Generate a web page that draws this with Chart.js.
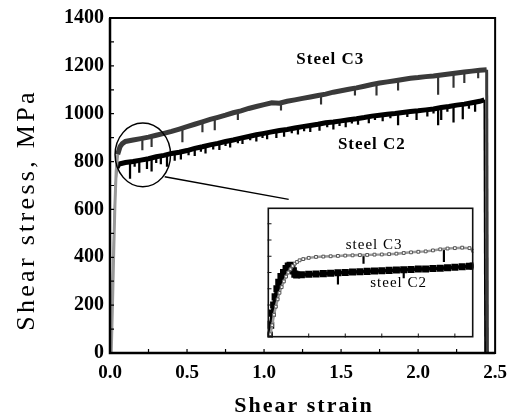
<!DOCTYPE html>
<html>
<head>
<meta charset="utf-8">
<script src="https://cdn.jsdelivr.net/npm/chart.js@4.4.1/dist/chart.umd.min.js"></script>
<style>
  html, body { margin: 0; padding: 0; background: #fff; }
  #wrap { position: relative; width: 516px; height: 416px; }
  #main { position: absolute; left: 0; top: 0; }
  #inset { position: absolute; left: 260px; top: 200px; }
</style>
</head>
<body>
<div id="wrap">
  <canvas id="main" width="516" height="416"></canvas>
  <canvas id="inset" width="221" height="145"></canvas>
</div>
<script>
// ── Main curves (shear strain vs shear stress, MPa)
const c2Strain = [0.004, 0.012, 0.02, 0.028, 0.036, 0.045, 0.06, 0.1, 0.15, 0.2, 0.25, 0.3, 0.35, 0.4, 0.45, 0.5,
  0.55, 0.6, 0.65, 0.7, 0.75, 0.8, 0.85, 0.9, 0.95, 1.0, 1.05, 1.1, 1.15, 1.2, 1.25, 1.3, 1.35, 1.4, 1.45, 1.5,
  1.55, 1.6, 1.65, 1.7, 1.75, 1.8, 1.85, 1.9, 1.95, 2.0, 2.05, 2.1, 2.15, 2.2, 2.25, 2.3, 2.35, 2.4, 2.43, 2.435];
const c2Stress = [0, 180, 380, 560, 700, 775, 790, 796, 800, 806, 812, 820, 826, 834, 839, 846,
  855, 862, 870, 876, 884, 890, 898, 905, 912, 918, 924, 930, 934, 940, 946, 951, 956, 962, 965, 970,
  975, 979, 984, 990, 994, 998, 1001, 1005, 1009, 1012, 1016, 1020, 1026, 1030, 1036, 1040, 1046, 1052, 1058, 0];

const c3Strain = [0.008, 0.016, 0.024, 0.032, 0.04, 0.05, 0.065, 0.08,
  0.1, 0.15, 0.2, 0.25, 0.3, 0.35, 0.4, 0.45, 0.5, 0.55, 0.6, 0.65, 0.7, 0.75, 0.8, 0.85, 0.9, 0.95, 1.0,
  1.05, 1.1, 1.15, 1.2, 1.25, 1.3, 1.35, 1.4, 1.45, 1.5, 1.55, 1.6, 1.65, 1.7, 1.75, 1.8, 1.85, 1.9, 1.95, 2.0,
  2.05, 2.1, 2.15, 2.2, 2.25, 2.3, 2.35, 2.4, 2.445, 2.45];
const c3Stress = [0, 200, 420, 620, 760, 830, 862, 875,
  884, 890, 896, 902, 910, 918, 926, 936, 946, 956, 966, 976, 985, 994, 1004, 1012, 1022, 1030, 1038,
  1046, 1044, 1052, 1058, 1064, 1070, 1076, 1082, 1090, 1096, 1102, 1108, 1115, 1122, 1128, 1133, 1138, 1143, 1148, 1151,
  1155, 1158, 1162, 1166, 1170, 1174, 1178, 1182, 1184, 0];

// downward serrations
const c2SpikeStrain = [0.13, 0.16, 0.19, 0.24, 0.27, 0.3, 0.33, 0.37, 0.42, 0.46, 0.51, 0.55, 0.59, 0.62, 0.67,
  0.71, 0.75, 0.78, 0.83, 0.86, 0.91, 0.95, 0.99, 1.02, 1.08, 1.13, 1.18, 1.22, 1.26, 1.3, 1.36, 1.41, 1.45,
  1.49, 1.53, 1.57, 1.61, 1.68, 1.72, 1.77, 1.82, 1.87, 1.93, 1.99, 2.06, 2.1, 2.13, 2.15, 2.19, 2.23, 2.29,
  2.33, 2.37];
const c2SpikeTop = [798, 802, 805, 810, 815, 818, 824, 830, 836, 840, 848, 855, 860, 865, 872,
  878, 882, 888, 896, 900, 908, 912, 916, 920, 928, 932, 938, 942, 946, 951, 957, 963, 965,
  968, 973, 977, 980, 988, 992, 996, 998, 1003, 1007, 1012, 1017, 1020, 1023, 1026, 1029, 1032, 1039,
  1042, 1048];
const c2SpikeLow = [730, 780, 755, 770, 760, 795, 790, 780, 805, 810, 828, 825, 842, 835, 852,
  850, 866, 860, 878, 875, 890, 885, 900, 895, 900, 905, 920, 915, 928, 925, 930, 945, 935,
  950, 945, 960, 955, 962, 975, 970, 982, 953, 988, 975, 990, 1002, 953, 975, 1010, 965, 978,
  1022, 1010];

const c3SpikeStrain = [0.21, 0.27, 0.47, 0.6, 0.68, 0.83, 1.11, 1.37, 1.59, 1.73, 1.87, 2.13, 2.23, 2.3, 2.39];
const c3SpikeTop = [898, 905, 940, 966, 980, 1008, 1047, 1078, 1106, 1126, 1140, 1160, 1168, 1174, 1180];
const c3SpikeLow = [849, 862, 882, 924, 932, 975, 1015, 1040, 1077, 1077, 1098, 1081, 1110, 1130, 1150];

// ── Inset (zoom of the yield region)
const insetC2Strain = [-0.008, -0.004, 0.0, 0.004, 0.008, 0.013, 0.018, 0.024, 0.031, 0.038, 0.044, 0.049, 0.054,
  0.058, 0.062, 0.067, 0.08, 0.1, 0.12, 0.14, 0.16, 0.18, 0.2, 0.22, 0.24, 0.26, 0.28, 0.3, 0.32, 0.34, 0.36,
  0.38, 0.4, 0.42, 0.44, 0.46, 0.48, 0.5, 0.52, 0.54, 0.55];
const insetC2Stress = [30, 150, 300, 400, 500, 600, 680, 750, 800, 850, 880, 890, 870,
  820, 780, 770, 772, 778, 782, 786, 792, 796, 800, 806, 810, 814, 818, 822, 826, 830, 834,
  838, 842, 844, 848, 852, 858, 864, 870, 876, 880];
const insetC3Strain = [-0.005, 0.0, 0.005, 0.01, 0.015, 0.02, 0.026, 0.032, 0.038, 0.044, 0.05, 0.056, 0.062,
  0.068, 0.075, 0.085, 0.1, 0.12, 0.14, 0.16, 0.18, 0.2, 0.22, 0.24, 0.26, 0.28, 0.3, 0.32, 0.34, 0.36,
  0.38, 0.4, 0.42, 0.44, 0.46, 0.48, 0.5, 0.52, 0.54, 0.55];
const insetC3Stress = [40, 150, 280, 380, 470, 550, 620, 690, 750, 800, 840, 880, 910,
  930, 950, 965, 980, 992, 996, 1000, 1004, 1008, 1011, 1014, 1016, 1020, 1022, 1026, 1032, 1040,
  1048, 1055, 1060, 1072, 1085, 1095, 1100, 1106, 1100, 1067];
const insetSpikeStrain = [0.18, 0.36, 0.25, 0.47];
const insetSpikeTop = [796, 834, 1014, 1095];
const insetSpikeLow = [655, 733, 911, 933];

const xTicks = [0, 0.5, 1.0, 1.5, 2.0, 2.5];
const yTicks = [0, 200, 400, 600, 800, 1000, 1200, 1400];

Chart.defaults.font.family = '"Liberation Serif", "Times New Roman", serif';
Chart.defaults.color = '#000';

const pts = (xs, ys) => xs.map((x, i) => ({ x, y: ys[i] }));
const spikes = (xs, lo, hi) => xs.map((x, i) => ({ x, y: [lo[i], hi[i]] }));
// thin lines for the elastic loading and the final unloading
const thinEnds = (n, w) => ctx => (ctx.p1DataIndex < 6 || ctx.p1DataIndex === n - 1) ? w : undefined;

const frameText = {
  id: 'frameText',
  afterDraw(chart) {
    const { ctx, chartArea: a, scales: { x, y } } = chart;
    ctx.save();
    ctx.strokeStyle = '#000';
    // frame
    ctx.lineWidth = 2;
    ctx.strokeRect(a.left, a.top, a.right - a.left, a.bottom - a.top);
    ctx.lineWidth = 2.5;
    ctx.beginPath();
    ctx.moveTo(a.left, a.top); ctx.lineTo(a.left, a.bottom); ctx.lineTo(a.right, a.bottom);
    ctx.stroke();
    // inward minor ticks
    ctx.lineWidth = 1.2;
    ctx.beginPath();
    for (let v = 0.25; v < 2.5; v += 0.25) {
      const px = x.getPixelForValue(v);
      ctx.moveTo(px, a.bottom); ctx.lineTo(px, a.bottom - 4);
    }
    for (let v = 100; v < 1400; v += 100) {
      const py = y.getPixelForValue(v);
      ctx.moveTo(a.left, py); ctx.lineTo(a.left + 4, py);
    }
    ctx.stroke();
    // circle around the yield region + leader to the inset
    ctx.lineWidth = 1.5;
    const cx = x.getPixelForValue(0.213), cy = y.getPixelForValue(828);
    const rx = x.getPixelForValue(0.393) - cx, ry = cy - y.getPixelForValue(961);
    ctx.beginPath();
    ctx.ellipse(cx, cy, rx, ry, 0, 0, Math.PI * 2);
    ctx.stroke();
    ctx.beginPath();
    ctx.moveTo(x.getPixelForValue(0.355), y.getPixelForValue(737));
    ctx.lineTo(x.getPixelForValue(1.16), y.getPixelForValue(642));
    ctx.stroke();
    // series labels
    ctx.fillStyle = '#000';
    ctx.textAlign = 'center';
    ctx.textBaseline = 'middle';
    ctx.letterSpacing = '1px';
    ctx.font = 'bold 17px "Liberation Serif"';
    ctx.fillText('Steel C3', x.getPixelForValue(1.43), y.getPixelForValue(1226));
    ctx.fillText('Steel C2', x.getPixelForValue(1.70), y.getPixelForValue(870));
    // axis titles
    ctx.textBaseline = 'alphabetic';
    ctx.letterSpacing = '2px';
    ctx.font = 'bold 22px "Liberation Serif"';
    ctx.fillText('Shear strain', 304, 412);
    ctx.translate(34, 210);
    ctx.rotate(-Math.PI / 2);
    ctx.letterSpacing = '3.3px';
    ctx.font = '26px "Liberation Serif"';
    ctx.fillText('Shear stress, MPa', 0, 0);
    ctx.restore();
  }
};

new Chart(document.getElementById('main'), {
  type: 'line',
  data: {
    datasets: [
      { data: pts(c3Strain, c3Stress), borderColor: '#3a3a3a', borderWidth: 5, pointRadius: 0, tension: 0,
        segment: { borderWidth: thinEnds(c3Strain.length, 3), borderColor: ctx => ctx.p1DataIndex < 6 ? '#999' : undefined } },
      { data: pts(c3Strain, c3Stress), borderColor: '#e0e0e0', borderWidth: 2.4, pointRadius: 0, tension: 0,
        segment: { borderWidth: thinEnds(c3Strain.length, 1) } },
      { data: pts(c2Strain, c2Stress), borderColor: '#000', borderWidth: 5, pointRadius: 0, tension: 0,
        segment: { borderWidth: thinEnds(c2Strain.length, 1.8), borderColor: ctx => ctx.p1DataIndex < 5 ? '#666' : undefined } },
      { type: 'bar', data: spikes(c2SpikeStrain, c2SpikeLow, c2SpikeTop), backgroundColor: '#000',
        barThickness: 1.6, grouped: false },
      { type: 'bar', data: spikes(c3SpikeStrain, c3SpikeLow, c3SpikeTop), backgroundColor: '#333',
        barThickness: 1.5, grouped: false },
    ]
  },
  options: {
    responsive: false,
    animation: false,
    layout: { padding: { left: 0, top: 15, right: 18, bottom: 0 } },
    plugins: { legend: { display: false }, tooltip: { enabled: false } },
    scales: {
      x: {
        type: 'linear', min: 0, max: 2.5, offset: false,
        afterFit: s => { s.height = 63; },
        afterBuildTicks: s => { s.ticks = xTicks.map(v => ({ value: v })); },
        grid: { display: false, drawTicks: false }, border: { display: false },
        ticks: { font: { size: 19, weight: 'bold' }, padding: 9, maxRotation: 0,
                 callback: v => v.toFixed(1) }
      },
      y: {
        type: 'linear', min: 0, max: 1400,
        afterFit: s => { s.width = 110; },
        afterBuildTicks: s => { s.ticks = yTicks.map(v => ({ value: v })); },
        grid: { display: false, drawTicks: false }, border: { display: false },
        ticks: { font: { size: 20, weight: 'bold' }, padding: 6, callback: v => String(v) }
      }
    }
  },
  plugins: [frameText]
});

const insetFrame = {
  id: 'insetFrame',
  afterDraw(chart) {
    const { ctx, chartArea: a, scales: { x, y } } = chart;
    ctx.save();
    ctx.strokeStyle = '#111';
    ctx.lineWidth = 1.6;
    ctx.strokeRect(a.left + 0.8, a.top + 0.8, a.right - a.left - 1.6, a.bottom - a.top - 1.6);
    ctx.lineWidth = 1;
    ctx.beginPath();
    for (let v = 0; v <= 0.5; v += 0.1) {
      const px = x.getPixelForValue(v);
      ctx.moveTo(px, a.bottom); ctx.lineTo(px, a.bottom - 4);
    }
    for (let v = 200; v <= 1400; v += 200) {
      const py = y.getPixelForValue(v);
      ctx.moveTo(a.left, py); ctx.lineTo(a.left + 4, py);
    }
    ctx.stroke();
    ctx.fillStyle = '#000';
    ctx.textAlign = 'center';
    ctx.textBaseline = 'middle';
    ctx.letterSpacing = '1px';
    ctx.font = '15px "Liberation Serif"';
    ctx.fillText('steel C3', x.getPixelForValue(0.279), y.getPixelForValue(1133));
    ctx.fillText('steel C2', x.getPixelForValue(0.346), y.getPixelForValue(667));
    ctx.restore();
  }
};

new Chart(document.getElementById('inset'), {
  type: 'line',
  data: {
    datasets: [
      { data: pts(insetC3Strain, insetC3Stress), borderColor: '#999', borderWidth: 2.5, pointStyle: 'rect',
        pointRadius: 2, pointBackgroundColor: '#fff', pointBorderColor: '#555', pointBorderWidth: 1, tension: 0 },
      { data: pts(insetC2Strain, insetC2Stress), borderColor: '#000', borderWidth: 3.5, pointStyle: 'rect',
        pointRadius: 2.5, pointBackgroundColor: '#000', pointBorderColor: '#000', tension: 0 },
      { type: 'bar', data: spikes(insetSpikeStrain, insetSpikeLow, insetSpikeTop), backgroundColor: '#000',
        barThickness: 1.5, grouped: false },
    ]
  },
  options: {
    responsive: false,
    animation: false,
    layout: { padding: 0 },
    plugins: { legend: { display: false }, tooltip: { enabled: false } },
    scales: {
      x: { type: 'linear', min: -0.0128, max: 0.551, display: false, offset: false },
      y: { type: 'linear', min: 0, max: 1600, display: false }
    }
  },
  plugins: [insetFrame]
});
</script>
</body>
</html>
